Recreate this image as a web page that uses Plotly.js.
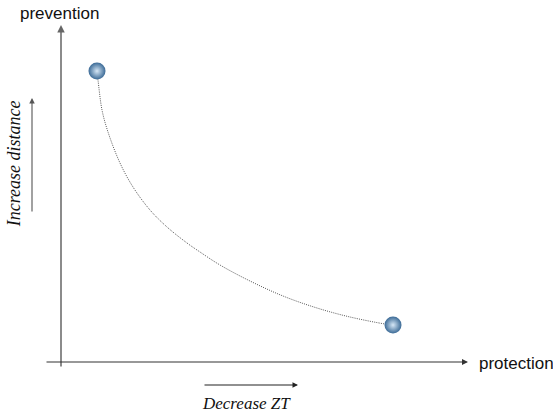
<!DOCTYPE html>
<html>
<head>
<meta charset="utf-8">
<script src="https://cdn.plot.ly/plotly-3.0.1.min.js"></script>
<style>html,body{margin:0;padding:0;background:#fff;}#chart{width:553px;height:414px;}</style>
</head>
<body>
<div id="chart"></div>
<script>
// Trade-off curve (protection on x, prevention on y)
var curveX = [0.9, 0.925, 1.025, 1.175, 1.475, 1.8, 2.225, 2.65, 3.15, 3.475, 3.975, 4.725, 5.55, 6.4, 7.225, 8.1, 8.3];
var curveY = [7.25, 7.05, 6.3, 5.75, 4.975, 4.375, 3.8, 3.375, 2.975, 2.75, 2.425, 2.025, 1.65, 1.35, 1.125, 0.95, 0.925];
// End points (spheres)
var pointX = [0.9, 8.3];
var pointY = [7.275, 0.925];
// Labels
var xAxisLabel = "protection";
var yAxisLabel = "prevention";
var xArrowLabel = "Decrease ZT";
var yArrowLabel = "Increase distance";

var traces = [
  {
    x: curveX, y: curveY, mode: "lines", type: "scatter",
    line: {color: "#555", width: 1, dash: "1px,1.2px", shape: "spline", smoothing: 1},
    hoverinfo: "skip", showlegend: false
  },
  {
    x: pointX, y: pointY, mode: "markers", type: "scatter",
    marker: {size: 17, color: "#3b6a96",
             gradient: {type: "radial", color: "#d6e7f6"},
             line: {width: 0}},
    hoverinfo: "skip", showlegend: false
  }
];

function arrow(x0, y0, x1, y1, color, w) {
  return {x: x1, y: y1, ax: x0, ay: y0, xref: "x", yref: "y", axref: "x", ayref: "y",
          text: "", showarrow: true, arrowhead: 2, arrowsize: 1, arrowwidth: w, arrowcolor: color};
}

var layout = {
  width: 553, height: 414,
  margin: {l: 0, r: 0, t: 0, b: 0},
  paper_bgcolor: "#fff", plot_bgcolor: "#fff",
  xaxis: {range: [-1.525, 12.3], visible: false, fixedrange: true},
  yaxis: {range: [-1.3, 9.05], visible: false, fixedrange: true},
  showlegend: false,
  annotations: [
    arrow(0, -0.15, 0, 8.425, "#666", 1.5),
    arrow(-0.4, 0, 10.175, 0, "#333", 1.2),
    arrow(-0.725, 3.725, -0.725, 6.6, "#555", 1.1),
    arrow(3.55, -0.575, 5.925, -0.575, "#222", 1.1),
    {x: -0.03, y: 8.72, xref: "x", yref: "y", text: yAxisLabel, showarrow: false,
     font: {family: "Liberation Sans, Arial, sans-serif", size: 17, color: "#111"}},
    {x: 10.4, y: -0.03, xref: "x", yref: "y", text: xAxisLabel, showarrow: false, xanchor: "left",
     font: {family: "Liberation Sans, Arial, sans-serif", size: 17, color: "#111"}},
    {x: -1.17, y: 4.95, xref: "x", yref: "y", text: "<i>" + yArrowLabel + "</i>", showarrow: false, textangle: -90,
     font: {family: "Liberation Serif, Times New Roman, serif", size: 18, color: "#111"}},
    {x: 4.625, y: -1.025, xref: "x", yref: "y", text: "<i>" + xArrowLabel + "</i>", showarrow: false,
     font: {family: "Liberation Serif, Times New Roman, serif", size: 17, color: "#111"}}
  ]
};

Plotly.newPlot("chart", traces, layout, {displayModeBar: false, staticPlot: true});
</script>
</body>
</html>
